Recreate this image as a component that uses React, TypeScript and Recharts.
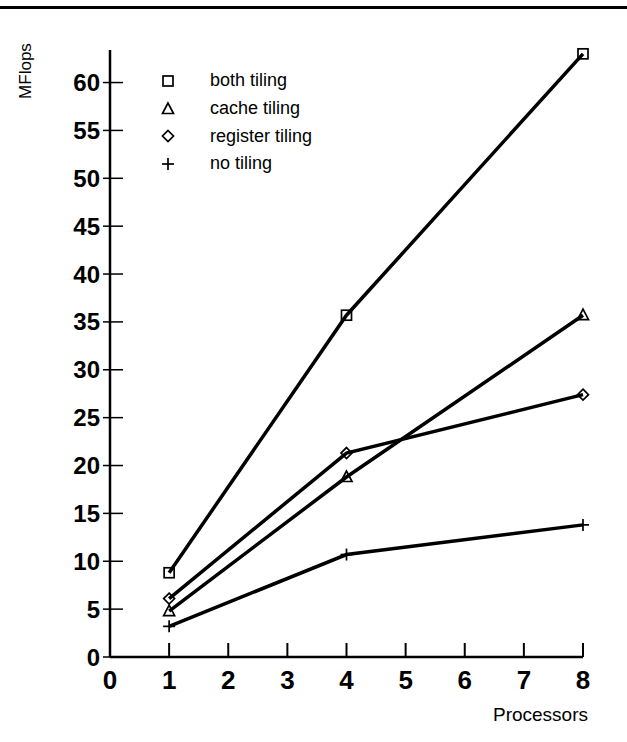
import React from 'react';
import { LineChart, Line, XAxis, YAxis } from 'recharts';

const processors = [1, 4, 8];
const bothTiling = [8.8, 35.7, 63.0];
const cacheTiling = [4.8, 18.8, 35.7];
const registerTiling = [6.1, 21.3, 27.4];
const noTiling = [3.2, 10.7, 13.8];
const xTicks = [0, 1, 2, 3, 4, 5, 6, 7, 8];
const yTicks = [0, 5, 10, 15, 20, 25, 30, 35, 40, 45, 50, 55, 60];
const seriesNames = ['both tiling', 'cache tiling', 'register tiling', 'no tiling'];
const seriesKeys = ['both', 'cache', 'register', 'none'];
const seriesShapes = ['square', 'triangle', 'diamond', 'plus'];

const data = processors.map((p, i) => ({
  p,
  both: bothTiling[i],
  cache: cacheTiling[i],
  register: registerTiling[i],
  none: noTiling[i],
}));

const FONT = '"Liberation Sans", Arial, Helvetica, sans-serif';

function Marker({ shape, cx, cy }: { shape: string; cx: number; cy: number }) {
  const s = { stroke: '#000', strokeWidth: 1.7, fill: 'none' };
  if (shape === 'square') return <rect x={cx - 5} y={cy - 5} width={10} height={10} {...s} />;
  if (shape === 'triangle')
    return <polygon points={`${cx},${cy - 6} ${cx - 5.5},${cy + 4.5} ${cx + 5.5},${cy + 4.5}`} {...s} />;
  if (shape === 'diamond')
    return <polygon points={`${cx},${cy - 5.5} ${cx + 5.5},${cy} ${cx},${cy + 5.5} ${cx - 5.5},${cy}`} {...s} />;
  return (
    <g {...s}>
      <line x1={cx - 6} y1={cy} x2={cx + 6} y2={cy} />
      <line x1={cx} y1={cy - 6} x2={cx} y2={cy + 6} />
    </g>
  );
}

const makeDot = (shape: string) => (props: any) => {
  const { cx, cy, index } = props;
  if (cx == null || cy == null) return <g key={index} />;
  return (
    <g key={`${shape}-${index}`}>
      <Marker shape={shape} cx={cx} cy={cy} />
    </g>
  );
};

const XTick = (props: any) => {
  const { x, y, payload } = props;
  return (
    <g>
      <line x1={x} y1={y - 14} x2={x} y2={y} stroke="#000" strokeWidth={2} />
      <text x={x} y={y + 32} textAnchor="middle" fontFamily={FONT} fontWeight="bold" fontSize={26} fill="#000">
        {payload.value}
      </text>
    </g>
  );
};

const YTick = (props: any) => {
  const { x, y, payload } = props;
  return (
    <g>
      <line x1={x - 7} y1={y} x2={x + 13} y2={y} stroke="#000" strokeWidth={1.5} />
      <text x={x - 10} y={y + 8.5} textAnchor="end" fontFamily={FONT} fontWeight="bold" fontSize={24} fill="#000">
        {payload.value}
      </text>
    </g>
  );
};

const LegendBox = () => (
  <div style={{ position: 'absolute', left: 158, top: 67, fontFamily: FONT, fontSize: 18, color: '#000' }}>
    {seriesNames.map((name, i) => (
      <div key={name} style={{ display: 'flex', alignItems: 'center', height: 27.7 }}>
        <svg width={40} height={20} style={{ display: 'block' }}>
          <Marker shape={seriesShapes[i]} cx={10} cy={10} />
        </svg>
        <span style={{ marginLeft: 12 }}>{name}</span>
      </div>
    ))}
  </div>
);

export default function App() {
  return (
    <div style={{ position: 'absolute', left: 0, top: 0, width: 627, height: 742, background: '#fff' }}>
      <div style={{ position: 'absolute', left: 0, top: 6, width: 627, height: 3, background: '#000' }} />
      <LineChart
        width={627}
        height={742}
        data={data}
        margin={{ top: 50, right: 44, left: 0, bottom: 25 }}
      >
        <XAxis
          dataKey="p"
          type="number"
          domain={[0, 8]}
          ticks={xTicks}
          interval={0}
          height={60}
          tickSize={0}
          tickMargin={0}
          tick={<XTick />}
          axisLine={{ stroke: '#000', strokeWidth: 2.5 }}
          label={(p: any) => {
            const vb = p.viewBox;
            return (
              <text x={vb.x + vb.width + 5} y={vb.y + 64} textAnchor="end" fontFamily={FONT} fontSize={19} fill="#000">
                Processors
              </text>
            );
          }}
        />
        <YAxis
          type="number"
          domain={[0, 63.4]}
          ticks={yTicks}
          interval={0}
          width={110}
          tickSize={0}
          tickMargin={0}
          tick={<YTick />}
          axisLine={{ stroke: '#000', strokeWidth: 2.5 }}
          label={(p: any) => {
            const vb = p.viewBox;
            const cx = vb.x + 31;
            const cy = vb.y + 21;
            return (
              <text x={cx} y={cy} transform={`rotate(-90 ${cx} ${cy})`} textAnchor="middle" fontFamily={FONT} fontSize={17} fill="#000">
                MFlops
              </text>
            );
          }}
        />
        {seriesKeys.map((k, i) => (
          <Line
            key={k}
            dataKey={k}
            name={seriesNames[i]}
            stroke="#000"
            strokeWidth={3.5}
            type="linear"
            dot={makeDot(seriesShapes[i])}
            activeDot={false}
            isAnimationActive={false}
          />
        ))}
      </LineChart>
      <LegendBox />
    </div>
  );
}
